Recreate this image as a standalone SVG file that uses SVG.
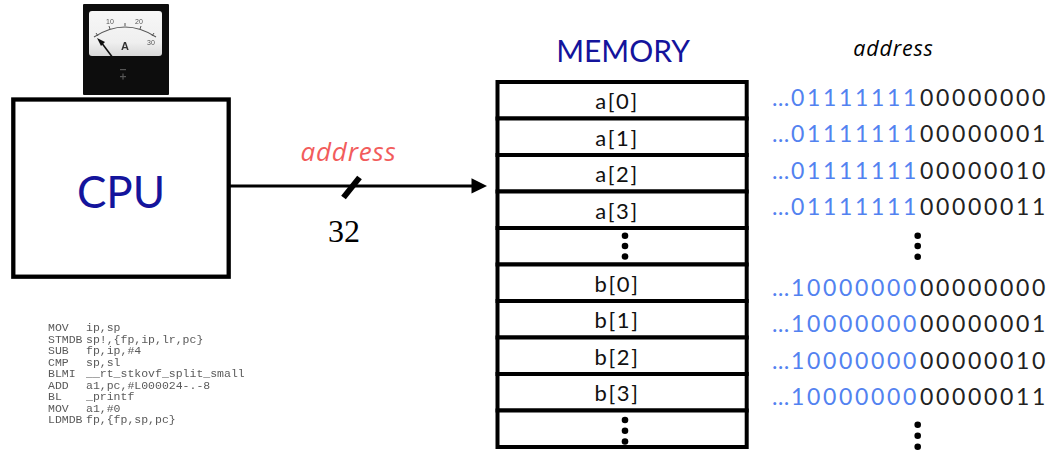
<svg xmlns="http://www.w3.org/2000/svg" width="1053" height="450" viewBox="0 0 1053 450">
  <style>
    .box { fill: #ffffff; stroke: #000000; stroke-width: 4.3; }
    .cell { fill: #ffffff; stroke: #000000; stroke-width: 4; }
    .cell-label { font-family: Lato, "Liberation Sans", sans-serif; font-size: 22px; letter-spacing: 1.6px; fill: #111111; text-anchor: middle; }
    .addr { font-family: Lato, "Liberation Sans", sans-serif; font-size: 23px; }
    .hi { fill: #5282f0; }
    .lo { fill: #222222; }
    .dot { fill: #000000; }
    .code { font-family: "Liberation Mono", monospace; font-size: 11.5px; fill: #5a5a5a; }
    .ital { font-family: "Open Sans", Lato, sans-serif; font-style: italic; text-anchor: middle; }
  </style>
  <defs>
    <filter id="soft" x="-5%" y="-5%" width="110%" height="110%">
      <feGaussianBlur stdDeviation="0.55"/>
    </filter>
    <linearGradient id="faceShade" x1="0" y1="0" x2="0" y2="1">
      <stop offset="0" stop-color="#f7f7f7"/>
      <stop offset="0.7" stop-color="#efefef"/>
      <stop offset="1" stop-color="#d8d8d8"/>
    </linearGradient>
  </defs>

  <rect width="1053" height="450" fill="#ffffff"/>

  <!-- ammeter sitting on the CPU -->
  <g id="meter" filter="url(#soft)">
    <rect x="83" y="4" width="86" height="91" rx="1" fill="#111111"/>
    <rect x="89" y="11" width="73" height="45" rx="3" fill="url(#faceShade)"/>
    <path d="M94 37 Q125 17 156 37" fill="none" stroke="#555" stroke-width="1.1"/>
    <path d="M98 36 l-2 -3 M110 29 l-1 -3 M125 26 l0 -3 M140 29 l1 -3 M152 36 l2 -3" stroke="#555" stroke-width="1"/>
    <text x="110" y="24" font-family="Liberation Sans, sans-serif" font-size="7" fill="#555" text-anchor="middle">10</text>
    <text x="139" y="24" font-family="Liberation Sans, sans-serif" font-size="7" fill="#555" text-anchor="middle">20</text>
    <text x="151" y="45" font-family="Liberation Sans, sans-serif" font-size="7" fill="#555" text-anchor="middle">30</text>
    <text x="125" y="50" font-family="Liberation Sans, sans-serif" font-size="11" font-weight="bold" fill="#333" text-anchor="middle">A</text>
    <line x1="101" y1="42" x2="113" y2="58" stroke="#111" stroke-width="1.6"/>
    <polygon points="97,38 105,42 101,46" fill="#111"/>
    <rect x="120" y="69" width="6" height="1.2" fill="#555"/>
    <rect x="120" y="76" width="6" height="1.2" fill="#555"/>
    <rect x="122.4" y="73.6" width="1.2" height="6" fill="#555"/>
  </g>

  <!-- processor -->
  <g id="cpu">
    <rect class="box" x="13.3" y="99.5" width="215.4" height="177.2"/>
    <text x="121" y="208" font-family="Lato, 'Liberation Sans', sans-serif" font-size="44" fill="#14149c" text-anchor="middle">CPU</text>
  </g>

  <!-- assembly listing -->
  <g id="listing" class="code" filter="url(#soft)">
    <text x="48" y="331">MOV</text><text x="86" y="331">ip,sp</text>
    <text x="48" y="342.5">STMDB</text><text x="86" y="342.5">sp!,{fp,ip,lr,pc}</text>
    <text x="48" y="354">SUB</text><text x="86" y="354">fp,ip,#4</text>
    <text x="48" y="365.5">CMP</text><text x="86" y="365.5">sp,sl</text>
    <text x="48" y="377">BLMI</text><text x="86" y="377">__rt_stkovf_split_small</text>
    <text x="48" y="388.5">ADD</text><text x="86" y="388.5">a1,pc,#L000024-.-8</text>
    <text x="48" y="400">BL</text><text x="86" y="400">_printf</text>
    <text x="48" y="411.5">MOV</text><text x="86" y="411.5">a1,#0</text>
    <text x="48" y="423">LDMDB</text><text x="86" y="423">fp,{fp,sp,pc}</text>
  </g>

  <!-- address bus -->
  <g id="connectors">
    <line x1="229" y1="186" x2="474" y2="186" stroke="#000" stroke-width="3"/>
    <polygon points="471.5,178.3 487,186 471.5,193.5" fill="#000"/>
    <line x1="343.5" y1="197.5" x2="359.5" y2="177.5" stroke="#000" stroke-width="6"/>
    <text class="ital" x="348.5" y="161" font-size="26" letter-spacing="0.8" fill="#f25c5c">address</text>
    <text x="344" y="242" font-family="'Liberation Serif', serif" font-size="32" fill="#000" text-anchor="middle">32</text>
  </g>

  <!-- memory array -->
  <g id="memory">
    <text x="623" y="61.5" font-family="Lato, 'Liberation Sans', sans-serif" font-size="30" fill="#14149c" text-anchor="middle">MEMORY</text>
    <g id="cell-a0"><rect class="cell" x="497.5" y="82" width="249.2" height="36.5"/><text class="cell-label" x="617" y="109">a[0]</text></g>
    <g id="cell-a1"><rect class="cell" x="497.5" y="118.5" width="249.2" height="36.5"/><text class="cell-label" x="617" y="145.5">a[1]</text></g>
    <g id="cell-a2"><rect class="cell" x="497.5" y="155" width="249.2" height="36.5"/><text class="cell-label" x="617" y="182">a[2]</text></g>
    <g id="cell-a3"><rect class="cell" x="497.5" y="191.5" width="249.2" height="36.5"/><text class="cell-label" x="617" y="218.5">a[3]</text></g>
    <g id="cell-gap1"><rect class="cell" x="497.5" y="228" width="249.2" height="36.5"/>
      <circle class="dot" cx="625" cy="235.7" r="3.3"/><circle class="dot" cx="625" cy="246" r="3.3"/><circle class="dot" cx="625" cy="256.5" r="3.3"/></g>
    <g id="cell-b0"><rect class="cell" x="497.5" y="264.5" width="249.2" height="36.5"/><text class="cell-label" x="617" y="291.5">b[0]</text></g>
    <g id="cell-b1"><rect class="cell" x="497.5" y="301" width="249.2" height="36.5"/><text class="cell-label" x="617" y="328">b[1]</text></g>
    <g id="cell-b2"><rect class="cell" x="497.5" y="337.5" width="249.2" height="36.5"/><text class="cell-label" x="617" y="364.5">b[2]</text></g>
    <g id="cell-b3"><rect class="cell" x="497.5" y="374" width="249.2" height="36.5"/><text class="cell-label" x="617" y="401">b[3]</text></g>
    <g id="cell-gap2"><rect class="cell" x="497.5" y="410.5" width="249.2" height="36.5"/>
      <circle class="dot" cx="625" cy="420" r="3.3"/><circle class="dot" cx="625" cy="430.7" r="3.3"/><circle class="dot" cx="625" cy="441.5" r="3.3"/></g>
  </g>

  <!-- address column -->
  <g id="addresses" class="addr">
    <text class="ital" x="893.5" y="56" font-size="21.5" letter-spacing="0.8" fill="#000">address</text>
    <text y="106"><tspan class="hi" x="772 791 807 823 839 855 871 887 903">…01111111</tspan><tspan class="lo" x="920 936 952 968 984 1000 1016 1032">00000000</tspan></text>
    <text y="142"><tspan class="hi" x="772 791 807 823 839 855 871 887 903">…01111111</tspan><tspan class="lo" x="920 936 952 968 984 1000 1016 1032">00000001</tspan></text>
    <text y="179"><tspan class="hi" x="772 791 807 823 839 855 871 887 903">…01111111</tspan><tspan class="lo" x="920 936 952 968 984 1000 1016 1032">00000010</tspan></text>
    <text y="215"><tspan class="hi" x="772 791 807 823 839 855 871 887 903">…01111111</tspan><tspan class="lo" x="920 936 952 968 984 1000 1016 1032">00000011</tspan></text>
    <circle class="dot" cx="917.7" cy="235.7" r="3.3"/><circle class="dot" cx="917.7" cy="246" r="3.3"/><circle class="dot" cx="917.7" cy="256.7" r="3.3"/>
    <text y="296"><tspan class="hi" x="772 791 807 823 839 855 871 887 903">…10000000</tspan><tspan class="lo" x="920 936 952 968 984 1000 1016 1032">00000000</tspan></text>
    <text y="332"><tspan class="hi" x="772 791 807 823 839 855 871 887 903">…10000000</tspan><tspan class="lo" x="920 936 952 968 984 1000 1016 1032">00000001</tspan></text>
    <text y="369"><tspan class="hi" x="772 791 807 823 839 855 871 887 903">…10000000</tspan><tspan class="lo" x="920 936 952 968 984 1000 1016 1032">00000010</tspan></text>
    <text y="405"><tspan class="hi" x="772 791 807 823 839 855 871 887 903">…10000000</tspan><tspan class="lo" x="920 936 952 968 984 1000 1016 1032">00000011</tspan></text>
    <circle class="dot" cx="917.7" cy="424.7" r="3.3"/><circle class="dot" cx="917.7" cy="435.7" r="3.3"/><circle class="dot" cx="917.7" cy="446.7" r="3.3"/>
  </g>
</svg>
